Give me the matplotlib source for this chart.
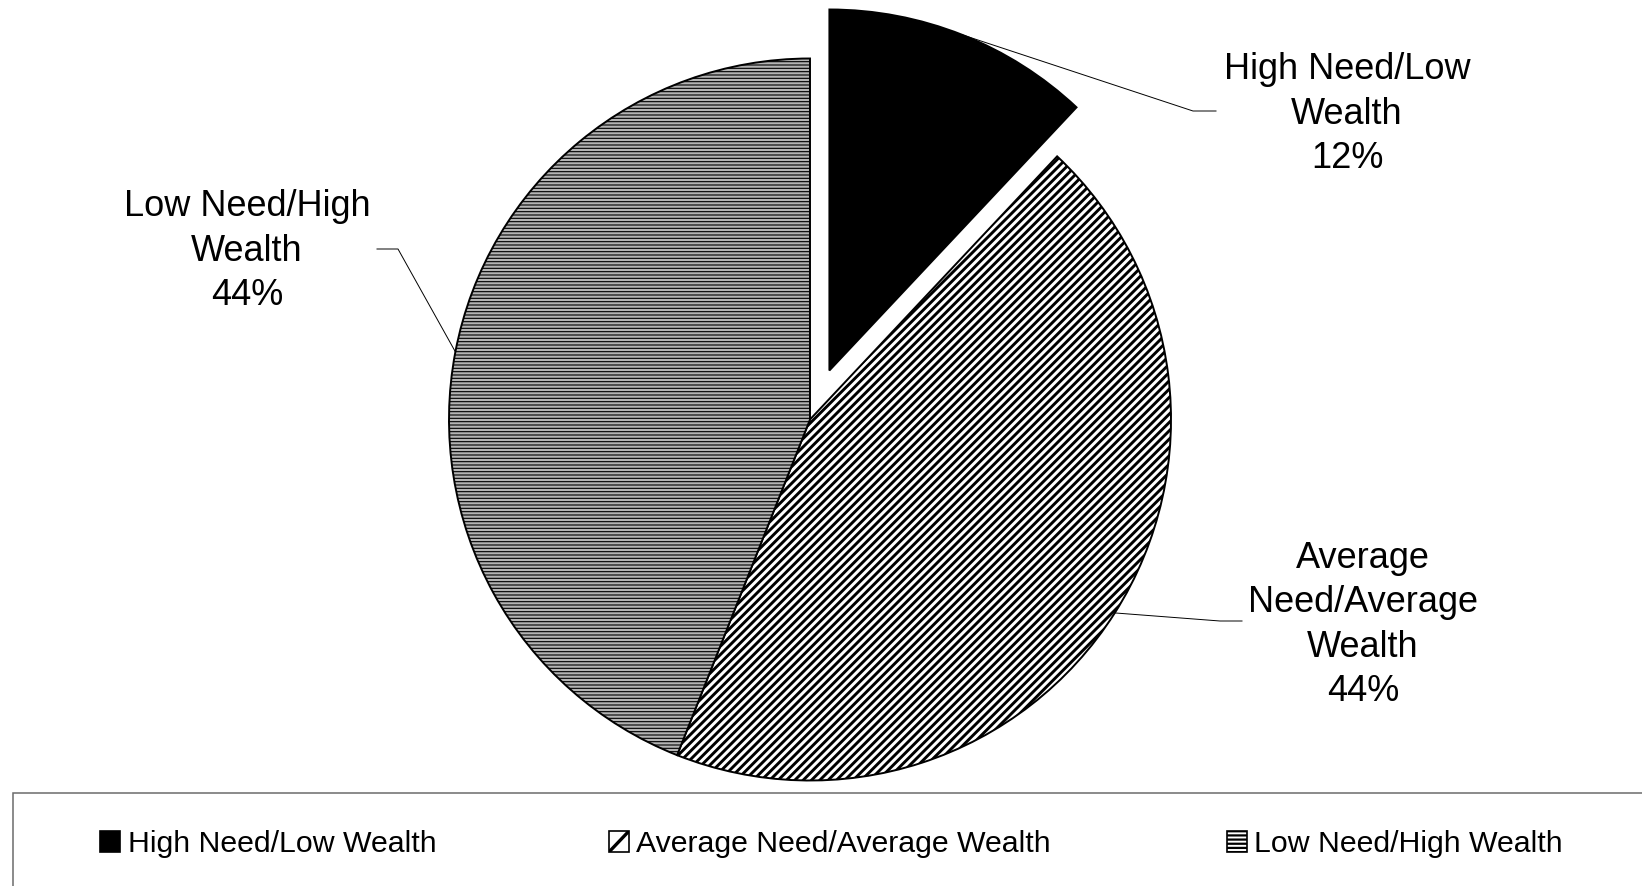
import matplotlib
matplotlib.use("Agg")
import matplotlib.pyplot as plt
from matplotlib.patches import Rectangle
import numpy as np

# Data
categories = ["High Need/Low Wealth", "Average Need/Average Wealth", "Low Need/High Wealth"]
shares = [12, 44, 44]
slice_labels = ["High Need/Low\nWealth", "Average\nNeed/Average\nWealth", "Low Need/High\nWealth"]

# Styling per slice
explode_frac = [0.146, 0, 0]
face_colors = ["black", "white", "#b4b4b4"]
hatches = [None, "////", "-----"]
hatch_widths = [1.0, 2.1, 0.8]
key_faces = ["black", "white", "white"]
key_hatches = [None, None, "----"]
key_hatch_widths = [1.0, 1.0, 1.6]
key_diagonal = [False, True, False]

W, H = 1642, 886
DPI = 100
RADIUS = 361
plt.rcParams["font.family"] = ["Liberation Sans", "DejaVu Sans"]

fig = plt.figure(figsize=(W / DPI, H / DPI), dpi=DPI)
ax = fig.add_axes([0, 0, 1, 1])


def py(y):
    """Convert a top-down pixel row into the axes' y coordinate."""
    return H - y


def hatch_width(artist, lw):
    """Give an artist its own hatch line width."""
    if hasattr(artist, "set_hatch_linewidth"):
        artist.set_hatch_linewidth(lw)
    artist._hatch_linewidth = lw
    orig_draw = artist.draw

    def draw(renderer):
        with plt.rc_context({"hatch.linewidth": lw}):
            orig_draw(renderer)

    artist.draw = draw


wedges, _ = ax.pie(
    shares, explode=[e * RADIUS for e in explode_frac], colors=face_colors,
    startangle=90, counterclock=False, center=(810, py(419.5)), radius=RADIUS,
    wedgeprops=dict(edgecolor="black", linewidth=1.4),
)
for w, h, lw in zip(wedges, hatches, hatch_widths):
    if h:
        w.set_hatch(h)
    hatch_width(w, lw)

ax.set_xlim(0, W)
ax.set_ylim(0, H)
ax.axis("off")

# Data labels with elbow leader lines
label_xy = [(1347, 114), (1363, 625), (247, 251)]
elbows = [(1193, 111), (1220, 621), (398, 249)]
line_ends = [(1216, 111), (1242, 621), (377, 249)]
for w, lab, val, (tx, ty), (ex, ey), (lx, ly) in zip(
        wedges, slice_labels, shares, label_xy, elbows, line_ends):
    mid = np.deg2rad((w.theta1 + w.theta2) / 2)
    cx, cy = w.center
    ax_, ay_ = cx + w.r * np.cos(mid), cy + w.r * np.sin(mid)
    ax.plot([ax_, ex, lx], [ay_, py(ey), py(ly)], color="black", lw=0.7,
            solid_joinstyle="miter")
    ax.text(tx, py(ty), f"{lab}\n{val}%", ha="center", va="center",
            multialignment="center", fontsize=26, linespacing=1.34)

# Legend frame and entries
ax.add_patch(Rectangle((13, -20), W, py(793) + 20, fill=False,
                       edgecolor="#6b6b6b", lw=1.1))
key_x = [100, 609, 1227]
text_x = [128, 636, 1254]
KEY_W, KEY_H = 20, 21
for cat, fc, h, hw, diag, kx, tx in zip(categories, key_faces, key_hatches,
                                        key_hatch_widths, key_diagonal,
                                        key_x, text_x):
    r = Rectangle((kx, py(852)), KEY_W, KEY_H, facecolor=fc,
                  edgecolor="black", lw=1.2, hatch=h)
    hatch_width(r, hw)
    ax.add_patch(r)
    if diag:
        ln, = ax.plot([kx, kx + KEY_W], [py(852), py(852) + KEY_H],
                      color="black", lw=2.4, solid_capstyle="butt")
        ln.set_clip_path(r)
    ax.text(tx, py(852), cat, ha="left", va="baseline", fontsize=21.8)

fig.savefig("out.png", dpi=DPI)
